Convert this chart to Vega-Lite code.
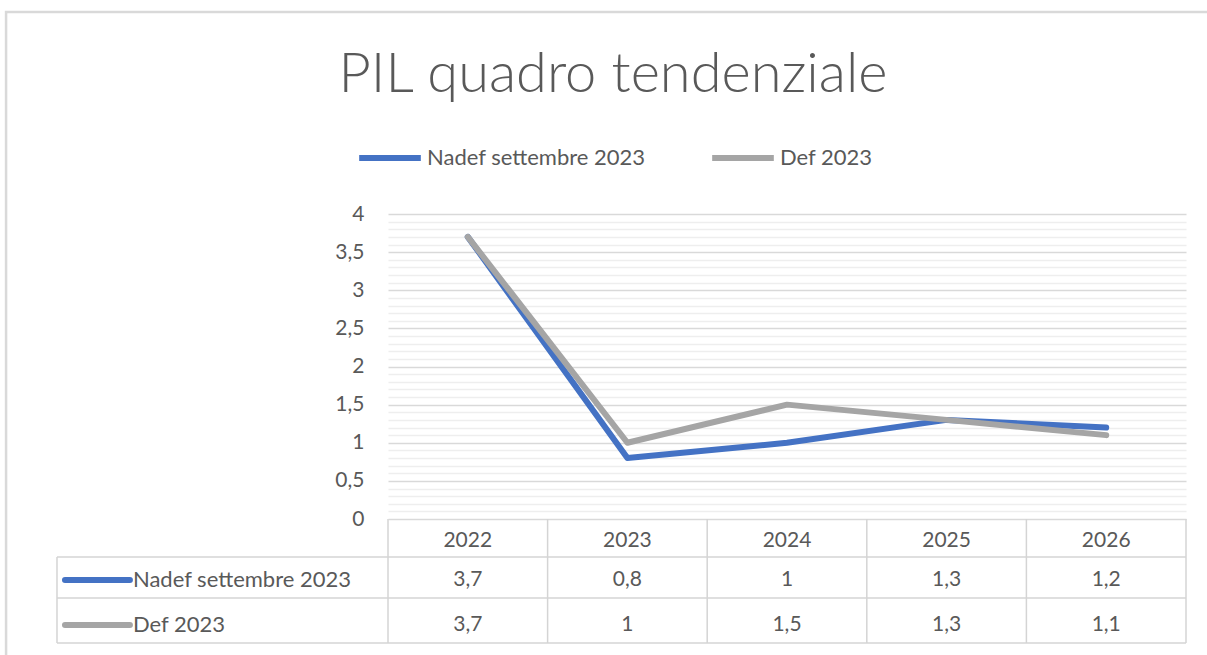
{
  "$schema": "https://vega.github.io/schema/vega-lite/v6.json",
  "width": 798,
  "height": 429,
  "autosize": "none",
  "padding": {"left": 388, "top": 214, "right": 21, "bottom": 12},
  "background": "white",
  "config": {
    "view": {"stroke": null},
    "font": "Lato"
  },
  "title": {
    "text": "PIL quadro tendenziale",
    "font": "Lato",
    "fontSize": 56,
    "fontWeight": 300,
    "color": "#595959",
    "anchor": "middle",
    "dx": -174,
    "offset": -93
  },
  "data": {
    "values": [
      {"year": 2022, "series": "Nadef settembre 2023", "value": 3.7},
      {"year": 2023, "series": "Nadef settembre 2023", "value": 0.8},
      {"year": 2024, "series": "Nadef settembre 2023", "value": 1},
      {"year": 2025, "series": "Nadef settembre 2023", "value": 1.3},
      {"year": 2026, "series": "Nadef settembre 2023", "value": 1.2},
      {"year": 2022, "series": "Def 2023", "value": 3.7},
      {"year": 2023, "series": "Def 2023", "value": 1},
      {"year": 2024, "series": "Def 2023", "value": 1.5},
      {"year": 2025, "series": "Def 2023", "value": 1.3},
      {"year": 2026, "series": "Def 2023", "value": 1.1}
    ]
  },
  "resolve": {"axis": {"x": "independent", "y": "independent"}},
  "layer": [
    {
      "transform": [{"filter": "datum.year === 2022 && datum.series === 'Def 2023'"}],
      "mark": {"type": "rect", "fillOpacity": 0, "stroke": "#d9d9d9", "strokeWidth": 2.5},
      "encoding": {
        "x": {"datum": 2019.107, "type": "quantitative", "axis": null},
        "x2": {"datum": 2026.7},
        "y": {"datum": 6.649, "type": "quantitative", "axis": null},
        "y2": {"datum": -1.95}
      }
    },
    {
      "transform": [{"filter": "datum.year === 2022 && datum.series === 'Def 2023'"}],
      "mark": {"type": "text", "opacity": 0},
      "encoding": {
        "x": {"datum": 2022, "type": "quantitative", "axis": null},
        "y": {
          "datum": 1,
          "type": "quantitative",
          "axis": {
            "orient": "left",
            "title": null,
            "values": [0.1, 0.2, 0.3, 0.4, 0.6, 0.7, 0.8, 0.9, 1.1, 1.2, 1.3, 1.4, 1.6, 1.7, 1.8, 1.9, 2.1, 2.2, 2.3, 2.4, 2.6, 2.7, 2.8, 2.9, 3.1, 3.2, 3.3, 3.4, 3.6, 3.7, 3.8, 3.9],
            "labels": false,
            "ticks": false,
            "domain": false,
            "grid": true,
            "gridColor": "#eeeeee",
            "gridWidth": 1.5
          }
        },
        "text": {"value": ""}
      }
    },
    {
      "mark": {"type": "line", "strokeWidth": 6, "strokeCap": "round", "strokeJoin": "round"},
      "encoding": {
        "x": {
          "field": "year",
          "type": "quantitative",
          "scale": {"domain": [2021.5, 2026.5], "nice": false, "zero": false},
          "axis": null
        },
        "y": {
          "field": "value",
          "type": "quantitative",
          "scale": {"domain": [-1.626, 4], "nice": false, "zero": false},
          "axis": {
            "orient": "left",
            "title": null,
            "values": [0, 0.5, 1, 1.5, 2, 2.5, 3, 3.5, 4],
            "labelExpr": "replace(format(datum.value, '~g'), '.', ',')",
            "labelOverlap": false,
            "labelFontSize": 21,
            "labelColor": "#595959",
            "labelPadding": 24,
            "labelFont": "Lato",
            "ticks": false,
            "domain": false,
            "grid": true,
            "gridColor": "#d9d9d9",
            "gridWidth": 1.5
          }
        },
        "color": {
          "field": "series",
          "type": "nominal",
          "scale": {"domain": ["Nadef settembre 2023", "Def 2023"], "range": ["#4472C4", "#A5A5A5"]},
          "legend": {
            "title": null,
            "orient": "none",
            "direction": "horizontal",
            "legendX": -32,
            "legendY": -90,
            "symbolType": "stroke",
            "symbolStrokeWidth": 6,
            "symbolSize": 3800,
            "labelFontSize": 22,
            "labelColor": "#595959",
            "labelFont": "Lato",
            "labelLimit": 0,
            "labelOffset": 3,
            "columnPadding": 54
          }
        }
      }
    },
    {
      "transform": [{"filter": "datum.year === 2022 && datum.series === 'Def 2023'"}],
      "mark": {"type": "rule", "color": "#d4d4d4", "strokeWidth": 1.5},
      "encoding": {"x": {"datum": 2019.426, "type": "quantitative", "axis": null}, "x2": {"datum": 2026.5}, "y": {"datum": -0.498, "type": "quantitative", "axis": null}}
    },
    {
      "transform": [{"filter": "datum.year === 2022 && datum.series === 'Def 2023'"}],
      "mark": {"type": "rule", "color": "#d4d4d4", "strokeWidth": 1.5},
      "encoding": {"x": {"datum": 2019.426, "type": "quantitative", "axis": null}, "x2": {"datum": 2026.5}, "y": {"datum": -1.036, "type": "quantitative", "axis": null}}
    },
    {
      "transform": [{"filter": "datum.year === 2022 && datum.series === 'Def 2023'"}],
      "mark": {"type": "rule", "color": "#d4d4d4", "strokeWidth": 1.5},
      "encoding": {"x": {"datum": 2019.426, "type": "quantitative", "axis": null}, "x2": {"datum": 2026.5}, "y": {"datum": -1.626, "type": "quantitative", "axis": null}}
    },
    {
      "transform": [{"filter": "datum.year === 2022 && datum.series === 'Def 2023'"}],
      "mark": {"type": "rule", "color": "#d4d4d4", "strokeWidth": 1.5},
      "encoding": {"x": {"datum": 2019.426, "type": "quantitative", "axis": null}, "y": {"datum": -0.498, "type": "quantitative", "axis": null}, "y2": {"datum": -1.626}}
    },
    {
      "transform": [{"filter": "datum.year === 2022 && datum.series === 'Def 2023'"}],
      "mark": {"type": "rule", "color": "#d4d4d4", "strokeWidth": 1.5},
      "encoding": {"x": {"datum": 2021.5, "type": "quantitative", "axis": null}, "y": {"datum": 0, "type": "quantitative", "axis": null}, "y2": {"datum": -1.626}}
    },
    {
      "transform": [{"filter": "datum.year === 2022 && datum.series === 'Def 2023'"}],
      "mark": {"type": "rule", "color": "#d4d4d4", "strokeWidth": 1.5},
      "encoding": {"x": {"datum": 2022.5, "type": "quantitative", "axis": null}, "y": {"datum": 0, "type": "quantitative", "axis": null}, "y2": {"datum": -1.626}}
    },
    {
      "transform": [{"filter": "datum.year === 2022 && datum.series === 'Def 2023'"}],
      "mark": {"type": "rule", "color": "#d4d4d4", "strokeWidth": 1.5},
      "encoding": {"x": {"datum": 2023.5, "type": "quantitative", "axis": null}, "y": {"datum": 0, "type": "quantitative", "axis": null}, "y2": {"datum": -1.626}}
    },
    {
      "transform": [{"filter": "datum.year === 2022 && datum.series === 'Def 2023'"}],
      "mark": {"type": "rule", "color": "#d4d4d4", "strokeWidth": 1.5},
      "encoding": {"x": {"datum": 2024.5, "type": "quantitative", "axis": null}, "y": {"datum": 0, "type": "quantitative", "axis": null}, "y2": {"datum": -1.626}}
    },
    {
      "transform": [{"filter": "datum.year === 2022 && datum.series === 'Def 2023'"}],
      "mark": {"type": "rule", "color": "#d4d4d4", "strokeWidth": 1.5},
      "encoding": {"x": {"datum": 2025.5, "type": "quantitative", "axis": null}, "y": {"datum": 0, "type": "quantitative", "axis": null}, "y2": {"datum": -1.626}}
    },
    {
      "transform": [{"filter": "datum.year === 2022 && datum.series === 'Def 2023'"}],
      "mark": {"type": "rule", "color": "#d4d4d4", "strokeWidth": 1.5},
      "encoding": {"x": {"datum": 2026.5, "type": "quantitative", "axis": null}, "y": {"datum": 0, "type": "quantitative", "axis": null}, "y2": {"datum": -1.626}}
    },
    {
      "transform": [{"filter": "datum.series === 'Def 2023'"}],
      "mark": {"type": "text", "fontSize": 21, "color": "#595959", "font": "Lato"},
      "encoding": {
        "x": {"field": "year", "type": "quantitative", "axis": null},
        "y": {"datum": -0.2885, "type": "quantitative", "axis": null},
        "text": {"field": "year", "type": "ordinal"}
      }
    },
    {
      "transform": [{"filter": "datum.series === 'Nadef settembre 2023'"}],
      "mark": {"type": "text", "fontSize": 21, "color": "#595959", "font": "Lato", "text": {"expr": "replace(format(datum.value, '~g'), '.', ',')"}},
      "encoding": {
        "x": {"field": "year", "type": "quantitative", "axis": null},
        "y": {"datum": -0.8, "type": "quantitative", "axis": null}
      }
    },
    {
      "transform": [{"filter": "datum.series === 'Def 2023'"}],
      "mark": {"type": "text", "fontSize": 21, "color": "#595959", "font": "Lato", "text": {"expr": "replace(format(datum.value, '~g'), '.', ',')"}},
      "encoding": {
        "x": {"field": "year", "type": "quantitative", "axis": null},
        "y": {"datum": -1.39, "type": "quantitative", "axis": null}
      }
    },
    {
      "transform": [{"filter": "datum.year === 2022 && datum.series === 'Nadef settembre 2023'"}],
      "mark": {"type": "rule", "color": "#4472C4", "strokeWidth": 6, "strokeCap": "round"},
      "encoding": {"x": {"datum": 2019.476, "type": "quantitative", "axis": null}, "x2": {"datum": 2019.883}, "y": {"datum": -0.8, "type": "quantitative", "axis": null}}
    },
    {
      "transform": [{"filter": "datum.year === 2022 && datum.series === 'Def 2023'"}],
      "mark": {"type": "rule", "color": "#A5A5A5", "strokeWidth": 6, "strokeCap": "round"},
      "encoding": {"x": {"datum": 2019.476, "type": "quantitative", "axis": null}, "x2": {"datum": 2019.883}, "y": {"datum": -1.39, "type": "quantitative", "axis": null}}
    },
    {
      "transform": [{"filter": "datum.year === 2022 && datum.series === 'Nadef settembre 2023'"}],
      "mark": {"type": "text", "fontSize": 22, "color": "#595959", "font": "Lato", "align": "left"},
      "encoding": {"x": {"datum": 2019.902, "type": "quantitative", "axis": null}, "y": {"datum": -0.8, "type": "quantitative", "axis": null}, "text": {"field": "series"}}
    },
    {
      "transform": [{"filter": "datum.year === 2022 && datum.series === 'Def 2023'"}],
      "mark": {"type": "text", "fontSize": 22, "color": "#595959", "font": "Lato", "align": "left"},
      "encoding": {"x": {"datum": 2019.902, "type": "quantitative", "axis": null}, "y": {"datum": -1.39, "type": "quantitative", "axis": null}, "text": {"field": "series"}}
    }
  ]
}
